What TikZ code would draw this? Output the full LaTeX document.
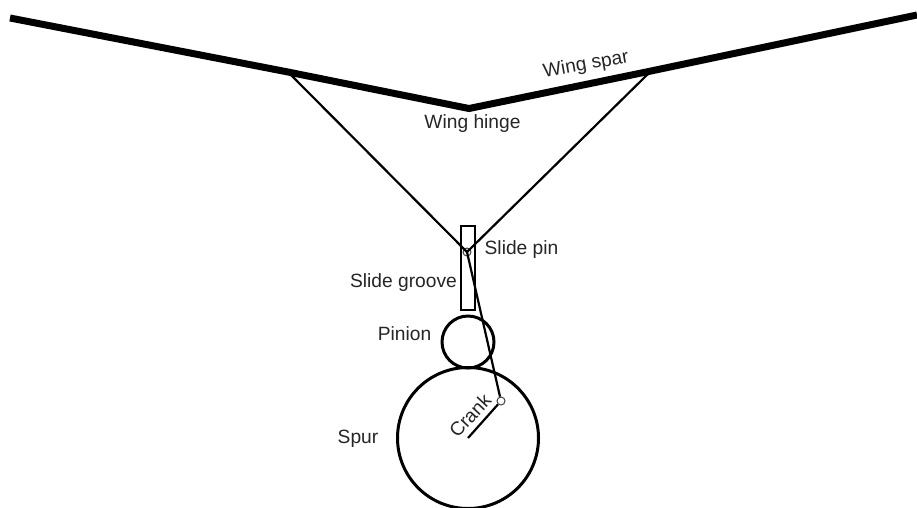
\documentclass[tikz,border=0pt]{standalone}
\usepackage{fontspec}
\setmainfont{Liberation Sans}
\begin{document}
\begin{tikzpicture}[x=1pt,y=-1pt,
  spar/.style={line width=7pt,line cap=butt,line join=miter},
  strut/.style={line width=2.2pt},
  wheel/.style={draw,line width=3pt},
  pivot/.style={draw,circle,line width=1pt,inner sep=0pt,minimum size=8pt,opacity=.75},
  tinypivot/.style={draw,circle,line width=0.8pt,inner sep=0pt,minimum size=5pt,opacity=.6},
  lab/.style={font=\fontsize{19.2}{21}\selectfont,text=black!85,inner sep=0pt}]
\useasboundingbox (0,0) rectangle (917,507);
\fill[white] (0,0) rectangle (917,507);
\coordinate (wl) at (10,18);
\coordinate (wr) at (917,15);
\coordinate (spur) at (468,438);
\node[wheel,circle,inner sep=0pt,minimum size=141pt] (spurw) at (spur) {};
\node[wheel,circle,inner sep=0pt,minimum size=52pt] (pinion) at (468,342) {};
\node[draw,line width=2pt,inner sep=0pt,minimum width=14pt,minimum height=84pt] (groove) at (467.5,268) {};
\node[tinypivot] (hinge) at (469,108.5) {};
\node[tinypivot] (pl) at (288,72) {};
\node[tinypivot] (pr) at (651,71) {};
\node[pivot] (pin) at (467,252) {};
\node[pivot] (cp) at (501,401) {};
\draw[spar] (wl) -- (pl.center) -- (hinge.center) -- (pr.center) -- (wr);
\draw[strut] (pl.center) -- (pin.center) -- (pr.center);
\draw[strut] (pin.center) -- (cp);
\draw[strut] (cp) -- (spur);
\node[lab,rotate=10] (t1) at (586,65) {Wing spar};
\node[lab] (t2) at (472.5,124) {Wing hinge};
\node[lab] (t3) at (521.5,250) {Slide pin};
\node[lab] (t4) at (403.5,283) {Slide groove};
\node[lab] (t5) at (404.5,334) {Pinion};
\node[lab,rotate=47] (t6) at (470,415.5) {Crank};
\node[lab] (t7) at (358,439) {Spur};
\end{tikzpicture}
\end{document}
